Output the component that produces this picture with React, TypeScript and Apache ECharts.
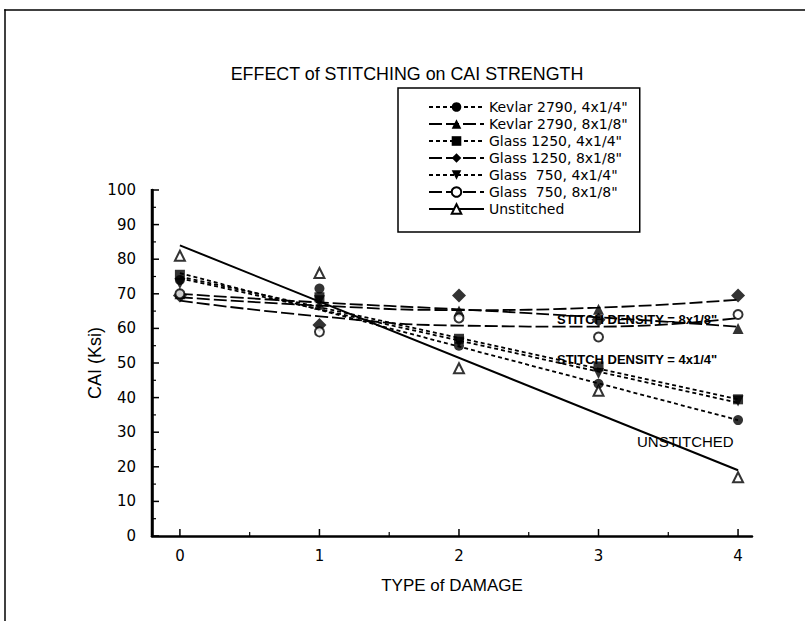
import React, { useEffect, useRef } from "react";
import * as echarts from "echarts";

// Type of damage (x) for every measured point
const damageTypes = [0, 1, 2, 3, 4];

// Measured CAI strength (Ksi)
const kevlar4 = [74, 71.5, 55, 44, 33.5];
const kevlar8 = [70, 67, 65, 65.5, 60];
const glass1250_4 = [75.5, 69, 57, 49, 39.5];
const glass1250_8 = [69.5, 61, 69.5, 62.5, 69.5];
const glass750_4 = [73, 68, 56, 47, 39];
const glass750_8 = [70, 59, 63, 57.5, 64];
const unstitched = [81, 76, 48.5, 42, 17];

// Trend lines
const lineX = [0, 4];
const kevlar4Fit = [76, 33.5];
const glass1250_4Fit = [75, 39.5];
const glass750_4Fit = [74.5, 38.5];
const unstitchedFit = [84, 19];
const curveX = [0, 1, 2, 3, 4];
const kevlar8Fit = [70, 67.5, 65.5, 63.2, 60.5];
const glass1250_8Fit = [69, 66.6, 65.3, 66, 68.3];
const glass750_8Fit = [68, 63.5, 60.8, 60.5, 63];

const names = [
  'Kevlar 2790, 4x1/4"',
  'Kevlar 2790, 8x1/8"',
  'Glass 1250, 4x1/4"',
  'Glass 1250, 8x1/8"',
  'Glass  750, 4x1/4"',
  'Glass  750, 8x1/8"',
  "Unstitched",
];

const X_MIN = -0.2;
const X_MAX = 4.1;
const Y_MIN = 0;
const Y_MAX = 100;
const xTicks = [0, 1, 2, 3, 4];
const xMinorTicks = [0.5, 1.5, 2.5, 3.5];
const yTicks = [0, 10, 20, 30, 40, 50, 60, 70, 80, 90, 100];
const yMinorTicks = [5, 15, 25, 35, 45, 55, 65, 75, 85, 95];

const SHORT = [4, 3];
const LONG = [13, 4];

const GRID = { left: 152, right: 53, top: 190, bottom: 85 };
const W = 805;
const H = 621;

export default function App() {
  const ref = useRef<HTMLDivElement>(null);
  useEffect(() => {
    const chart = echarts.init(ref.current!, null, { renderer: "svg" });
    const pair = (xs: number[], ys: number[]) => xs.map((x, i) => [x, ys[i]]);
    const defs = [
      { name: names[0], pts: kevlar4, fx: lineX, fy: kevlar4Fit, sym: "circle", size: 10, rot: 0, open: false, dash: SHORT, smooth: false },
      { name: names[1], pts: kevlar8, fx: curveX, fy: kevlar8Fit, sym: "triangle", size: 11, rot: 0, open: false, dash: LONG, smooth: true },
      { name: names[2], pts: glass1250_4, fx: lineX, fy: glass1250_4Fit, sym: "rect", size: 10, rot: 0, open: false, dash: SHORT, smooth: false },
      { name: names[3], pts: glass1250_8, fx: curveX, fy: glass1250_8Fit, sym: "diamond", size: 14, rot: 0, open: false, dash: LONG, smooth: true },
      { name: names[4], pts: glass750_4, fx: lineX, fy: glass750_4Fit, sym: "triangle", size: 11, rot: 180, open: false, dash: SHORT, smooth: false },
      { name: names[5], pts: glass750_8, fx: curveX, fy: glass750_8Fit, sym: "circle", size: 9, rot: 0, open: true, dash: LONG, smooth: true },
      { name: names[6], pts: unstitched, fx: lineX, fy: unstitchedFit, sym: "triangle", size: 10, rot: 0, open: true, dash: "solid", smooth: false },
    ];
    const series: any[] = [];
    defs.forEach((d) => {
      const itemStyle = d.open
        ? { color: "#fff", borderColor: "#000", borderWidth: 2 }
        : { color: "#000", borderColor: "#000", borderWidth: 0 };
      series.push({
        type: "line",
        name: d.name,
        data: pair(d.fx, d.fy),
        symbol: d.sym,
        symbolSize: d.size,
        symbolRotate: d.rot,
        showSymbol: false,
        smooth: d.smooth ? 0.5 : false,
        lineStyle: { color: "#000", width: d.dash === "solid" ? 2 : 1.8, type: d.dash },
        itemStyle,
        z: 2,
      });
    });
    defs.forEach((d) => {
      const itemStyle = d.open
        ? { color: "#fff", borderColor: "#000", borderWidth: 2 }
        : { color: "#000", borderColor: "#000", borderWidth: 0 };
      series.push({
        type: "scatter",
        name: d.name,
        data: pair(damageTypes, d.pts),
        symbol: d.sym,
        symbolSize: d.size,
        symbolRotate: d.rot,
        itemStyle,
        z: 3,
      });
    });

    const narrow = "'Liberation Sans Narrow', 'Liberation Sans'";

    // axis decorations, placed from the grid box and the axis ranges
    const left = GRID.left;
    const bottom = H - GRID.bottom;
    const top = GRID.top;
    const right = W - GRID.right;
    const xPix = (v: number) => left + ((v - X_MIN) / (X_MAX - X_MIN)) * (right - left);
    const yPix = (v: number) => bottom - ((v - Y_MIN) / (Y_MAX - Y_MIN)) * (bottom - top);
    const axisGraphic: any[] = [
      { type: "rect", shape: { x: left - 1.25, y: top - 1, width: 2.5, height: bottom - top + 2 }, style: { fill: "#000" }, z: 20 },
    ];
    yTicks.forEach((v) => {
      axisGraphic.push({ type: "rect", shape: { x: left, y: yPix(v) - 0.75, width: 7, height: 1.5 }, style: { fill: "#000" }, z: 20 });
    });
    yMinorTicks.forEach((v) => {
      axisGraphic.push({ type: "rect", shape: { x: left, y: yPix(v) - 0.6, width: 4, height: 1.2 }, style: { fill: "#000" }, z: 20 });
    });
    xTicks.forEach((v) => {
      axisGraphic.push({ type: "rect", shape: { x: xPix(v) - 0.75, y: bottom - 7, width: 1.5, height: 7 }, style: { fill: "#000" }, z: 20 });
    });
    xMinorTicks.forEach((v) => {
      axisGraphic.push({ type: "rect", shape: { x: xPix(v) - 0.6, y: bottom - 4, width: 1.2, height: 4 }, style: { fill: "#000" }, z: 20 });
    });

    chart.setOption({
      animation: false,
      backgroundColor: "#fff",
      textStyle: { fontFamily: "DejaVu Sans", color: "#000" },
      grid: { ...GRID, containLabel: false },
      legend: {
        data: names,
        orient: "vertical",
        left: 398,
        top: 88,
        itemWidth: 55,
        itemHeight: 12,
        itemGap: 3,
        padding: [12, 12, 16, 30],
        borderColor: "#000",
        borderWidth: 1.5,
        backgroundColor: "#fff",
        textStyle: { fontFamily: "DejaVu Sans", fontSize: 14, color: "#000", lineHeight: 12 },
        selectedMode: false,
        z: 10,
      },
      xAxis: {
        type: "value",
        min: X_MIN,
        max: X_MAX,
        interval: 1,
        name: "TYPE of DAMAGE",
        nameLocation: "middle",
        nameGap: 41,
        nameTextStyle: { fontFamily: narrow, fontSize: 17, color: "#000" },
        axisLine: { show: true, onZero: false, lineStyle: { color: "#000", width: 2.5 } },
        axisTick: { show: false },
        axisLabel: { fontSize: 15, color: "#000", margin: 12, customValues: xTicks, fontFamily: "DejaVu Sans" },
        splitLine: { show: false },
      },
      yAxis: {
        type: "value",
        min: Y_MIN,
        max: Y_MAX,
        interval: 10,
        name: "CAI (Ksi)",
        nameLocation: "middle",
        nameGap: 48,
        nameMoveOverlap: false,
        nameRotate: 90,
        nameTextStyle: { fontFamily: narrow, fontSize: 18, color: "#000" },
        axisLine: { show: true, onZero: false, lineStyle: { color: "#000", width: 2.5 } },
        axisTick: { show: false },
        axisLabel: { fontSize: 15, color: "#000", margin: 16, fontFamily: "DejaVu Sans" },
        splitLine: { show: false },
      },
      graphic: [
        { type: "rect", shape: { x: 4.25, y: 9.25, width: W, height: 1.5 }, style: { fill: "#000" } },
        { type: "rect", shape: { x: 4.25, y: 9.25, width: 1.5, height: H }, style: { fill: "#000" } },
        {
          type: "text",
          x: 407,
          y: 64,
          scaleX: 0.94,
          style: { text: "EFFECT of STITCHING on CAI STRENGTH", font: "19px " + narrow, fill: "#000", textAlign: "center" },
        },
        {
          type: "text",
          x: 557,
          y: 313,
          style: { text: 'STITCH DENSITY = 8x1/8"', font: "bold 13px " + narrow, fill: "#000" },
        },
        {
          type: "text",
          x: 557,
          y: 353,
          style: { text: 'STITCH DENSITY = 4x1/4"', font: "bold 13px " + narrow, fill: "#000" },
        },
        {
          type: "text",
          x: 637,
          y: 434,
          style: { text: "UNSTITCHED", font: "15px " + narrow, fill: "#000" },
        },
        ...axisGraphic,
      ],
      series,
    });

    return () => chart.dispose();
  }, []);
  return <div ref={ref} style={{ position: "fixed", left: 0, top: 0, width: W, height: H, background: "#fff" }} />;
}
